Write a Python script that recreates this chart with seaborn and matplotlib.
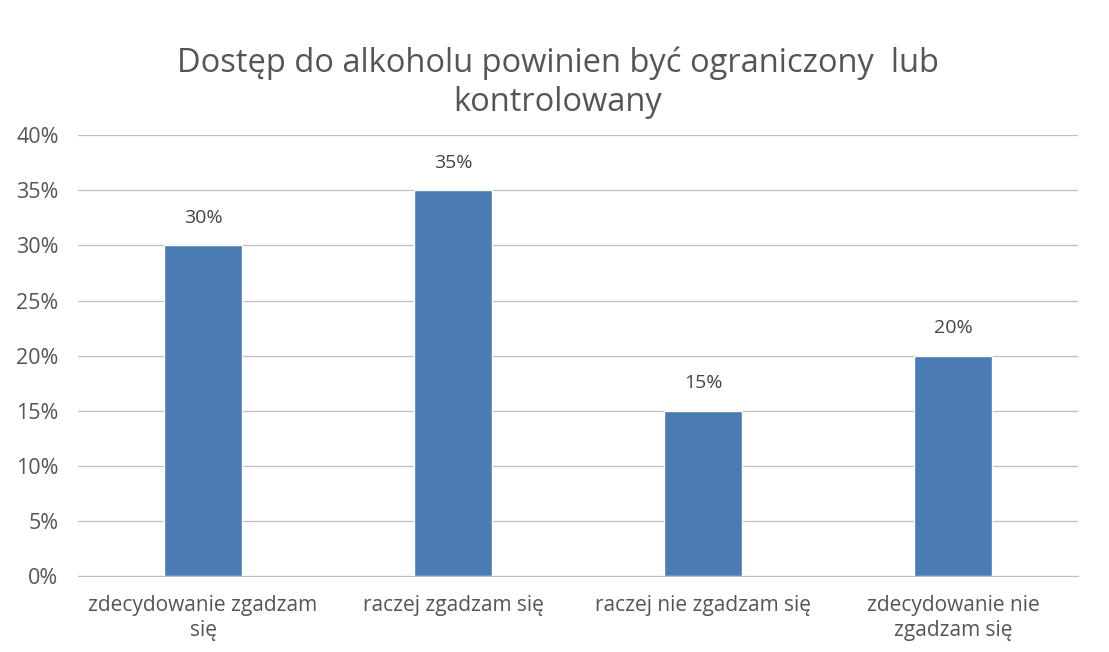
import pandas as pd
import matplotlib.pyplot as plt
import seaborn as sns
from matplotlib.ticker import PercentFormatter

# -----------------------------
# Data
# -----------------------------
categories = [
    "zdecydowanie zgadzam\nsię",
    "raczej zgadzam się",
    "raczej nie zgadzam się",
    "zdecydowanie nie\nzgadzam się",
]
values = [30, 35, 15, 20]
title = "Dostęp do alkoholu powinien być ograniczony  lub\nkontrolowany"

df = pd.DataFrame({"kategoria": categories, "procent": values})

# -----------------------------
# Plot
# -----------------------------
sns.set_style("white")
plt.rcParams["font.family"] = ["Open Sans", "DejaVu Sans"]

fig = plt.figure(figsize=(11.09, 6.52), dpi=100)
ax = fig.add_axes([0.0703, 0.1166, 0.902, 0.676])

sns.barplot(data=df, x="kategoria", y="procent", color="#4a7bb3",
            width=0.31, saturation=1, ax=ax, zorder=3)

ax.set_ylim(0, 40)
ax.set_xlim(-0.5, 3.5)
ax.set_yticks(range(0, 41, 5))
ax.yaxis.set_major_formatter(PercentFormatter(decimals=0))
ax.grid(axis="y", color="#bfbfbf", linewidth=0.9, zorder=0)
ax.set_xlabel("")
ax.set_ylabel("")
for s in ["top", "right", "left"]:
    ax.spines[s].set_visible(False)
ax.spines["bottom"].set_color("#bfbfbf")
ax.tick_params(axis="y", length=0, labelsize=15.5, colors="#555555", pad=14)
ax.tick_params(axis="x", length=0, labelsize=15, colors="#555555", pad=14)
for lbl in ax.get_xticklabels():
    lbl.set_linespacing(1.2)

for p, v in zip(ax.patches, values):
    ax.text(p.get_x() + p.get_width() / 2, v + 1.7, f"{v}%", ha="center",
            va="bottom", fontsize=14, color="#444444")

fig.text(0.503, 0.873, title, ha="center", va="center", fontsize=23.5,
         color="#555555", linespacing=1.25)

fig.savefig("out.png", dpi=100)
